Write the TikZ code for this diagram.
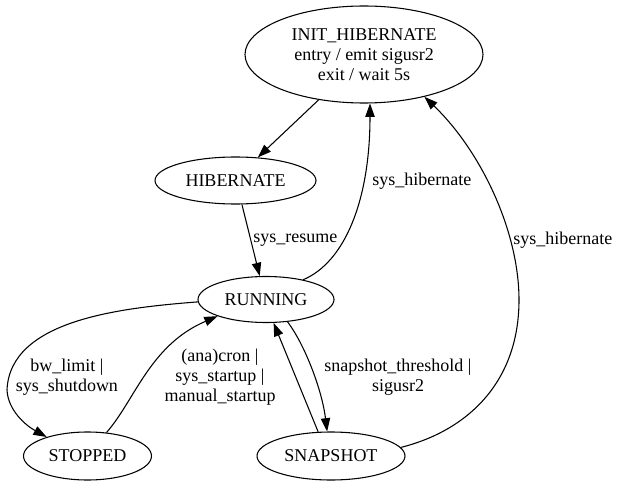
\documentclass[tikz,border=0pt]{standalone}
\usepackage{fontspec}
\setmainfont{Liberation Serif}
\usetikzlibrary{arrows.meta,shapes.geometric}
\begin{document}
\begin{tikzpicture}[x=0.75pt,y=-0.75pt,
  every node/.style={font=\fontsize{13.5}{15}\selectfont},
  st/.style={draw,ellipse,inner sep=0pt,line width=0.8pt,align=center},
  lbl/.style={inner sep=0pt,align=center},
  edge/.style={draw,line width=0.8pt,-{Triangle[length=10pt,width=7pt]}}]
\useasboundingbox (0,0) rectangle (618,485);
\node[st,minimum width=178.5pt,minimum height=72.75pt] (init) at (364,54.5) {INIT\_HIBERNATE\\entry / emit sigusr2\\exit / wait 5s};
\node[st,minimum width=120.75pt,minimum height=35.25pt] (hib) at (235.5,180.5) {HIBERNATE};
\node[st,minimum width=102pt,minimum height=34.5pt] (run) at (266,299.5) {RUNNING};
\node[st,minimum width=96pt,minimum height=36pt] (stop) at (87.5,456) {STOPPED};
\node[st,minimum width=111pt,minimum height=36pt] (snap) at (331,456) {SNAPSHOT};

\draw[edge] (init.-135) -- (hib.46);
\draw[edge] (hib.-75) -- (run.105);
\draw[edge] (run.28) .. controls (345,262) and (370,200) .. (init.-83);
\draw[edge] (snap.7) .. controls (470,430) and (519,380) .. (519,300) .. controls (519,230) and (480,150) .. (init.-35);
\draw[edge] (run.182) .. controls (120,308) and (10,320) .. (7,390) .. controls (8,410) and (25,425) .. (stop.155);
\draw[edge] (stop.51) .. controls (135,400) and (150,345) .. (run.-161);
\draw[edge] (run.-46) .. controls (305,345) and (322,390) .. (snap.99);
\draw[edge] (snap.118) -- (run.-72);

\node[lbl,anchor=west] (l1) at (253,240) {sys\_resume};
\node[lbl,anchor=west] (l2) at (372,181) {sys\_hibernate};
\node[lbl,anchor=west] (l3) at (513,240) {sys\_hibernate};
\node[lbl] (l4) at (67,377) {bw\_limit |\\sys\_shutdown};
\node[lbl] (l5) at (220,377) {(ana)cron |\\sys\_startup |\\manual\_startup};
\node[lbl] (l6) at (398,377) {snapshot\_threshold |\\sigusr2};
\end{tikzpicture}
\end{document}
